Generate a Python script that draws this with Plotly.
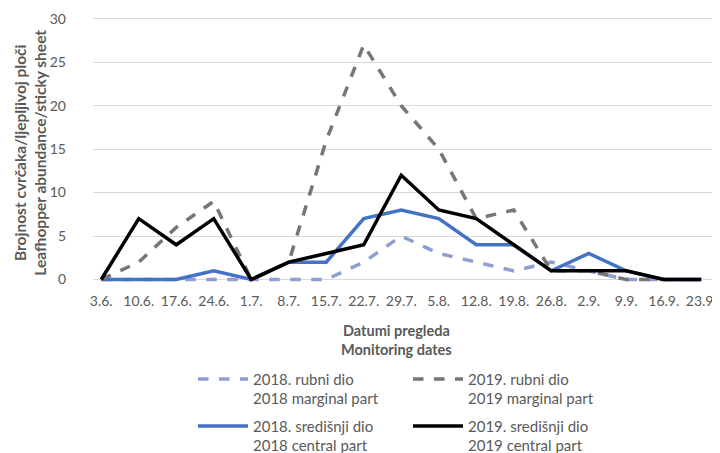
import plotly.graph_objects as go

dates = ["3.6.", "10.6.", "17.6.", "24.6.", "1.7.", "8.7.", "15.7.", "22.7.", "29.7.",
         "5.8.", "12.8.", "19.8.", "26.8.", "2.9.", "9.9.", "16.9.", "23.9."]

marginal_2018 = [0, 0, 0, 0, 0, 0, 0, 2, 5, 3, 2, 1, 2, 1, 0, 0, 0]
central_2018 = [0, 0, 0, 1, 0, 2, 2, 7, 8, 7, 4, 4, 1, 3, 1, 0, 0]
marginal_2019 = [0, 2, 6, 9, 0, 2, 16, 27, 20, 15, 7, 8, 1, 1, 0, 0, 0]
central_2019 = [0, 7, 4, 7, 0, 2, 3, 4, 12, 8, 7, 4, 1, 1, 1, 0, 0]

names = {
    "m18": "2018. rubni dio<br>2018 marginal part",
    "c18": "2018. središnji dio<br>2018 central part",
    "m19": "2019. rubni dio<br>2019 marginal part",
    "c19": "2019. središnji dio<br>2019 central part",
}

FONT = "Lato"
TXT = "#595959"

fig = go.Figure()
fig.add_trace(go.Scatter(x=dates, y=marginal_2018, mode="lines", name=names["m18"],
                         line=dict(color="#8E9ED3", width=3.5, dash="dash"),
                         legend="legend", legendrank=1))
fig.add_trace(go.Scatter(x=dates, y=central_2018, mode="lines", name=names["c18"],
                         line=dict(color="#4472C4", width=3.5),
                         legend="legend2", legendrank=1))
fig.add_trace(go.Scatter(x=dates, y=marginal_2019, mode="lines", name=names["m19"],
                         line=dict(color="#767676", width=3.5, dash="dash"),
                         legend="legend", legendrank=2))
fig.add_trace(go.Scatter(x=dates, y=central_2019, mode="lines", name=names["c19"],
                         line=dict(color="#000000", width=3.5),
                         legend="legend2", legendrank=2))

legend_common = dict(orientation="h", x=0.1595, xanchor="left", yanchor="top",
                     entrywidth=150, entrywidthmode="pixels", itemwidth=50,
                     font=dict(size=15, color=TXT), valign="top",
                     traceorder="normal", bgcolor="rgba(0,0,0,0)")

fig.update_layout(
    width=712, height=445,
    margin=dict(l=85, r=0, t=9, b=170, autoexpand=False),
    paper_bgcolor="white", plot_bgcolor="white",
    font=dict(family=FONT, size=14, color=TXT),
    xaxis=dict(type="category", range=[-0.22, 16.5], showgrid=False, zeroline=False,
               showline=False, ticks="", tickfont=dict(size=14, color=TXT),
               ticklabelstandoff=8),
    yaxis=dict(range=[-0.4, 30.2], tickvals=[0, 5, 10, 15, 20, 25, 30],
               showgrid=True, gridcolor="#D9D9D9", gridwidth=1, zeroline=False,
               showline=False, ticks="", tickfont=dict(size=14, color=TXT),
               ticklabelstandoff=26),
    showlegend=True,
    legend=dict(y=-0.30, **legend_common),
    legend2=dict(y=-0.4767, **legend_common),
    annotations=[
        dict(text="<b>Brojnost cvrčaka/ljepljivoj ploči<br>Leafhopper abundance/sticky sheet</b>",
             xref="paper", yref="paper", x=-0.1005, y=0.49, xanchor="center", yanchor="middle",
             textangle=-90, showarrow=False, font=dict(size=15.5, color=TXT)),
        dict(text="<b>Datumi pregleda<br>Monitoring dates</b>",
             xref="paper", yref="paper", x=0.484, y=-0.139, xanchor="center", yanchor="top",
             showarrow=False, font=dict(size=14.5, color=TXT)),
    ],
)

fig.write_html("out.html")
